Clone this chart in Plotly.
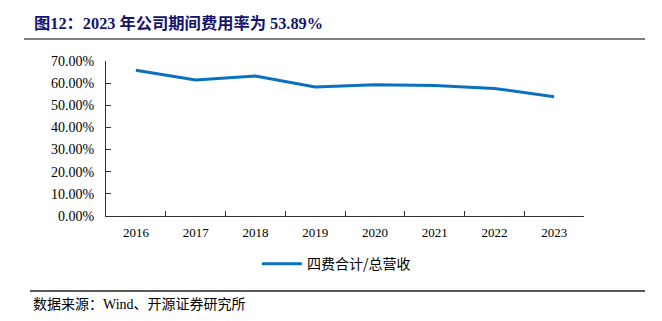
import plotly.graph_objects as go

years = ["2016", "2017", "2018", "2019", "2020", "2021", "2022", "2023"]
ratio = [65.8, 61.4, 63.2, 58.3, 59.3, 58.9, 57.6, 53.89]
y_ticks = [0, 10, 20, 30, 40, 50, 60, 70]
y_tick_text = [f"{v:.2f}%" for v in y_ticks]

W, H = 662, 321
L, R, T, B = 106, 78, 61, 105

FONT = "Liberation Serif, Times New Roman, Noto Sans CJK SC, serif"

fig = go.Figure()
fig.add_trace(go.Scatter(
    x=years, y=ratio, mode="lines", name="四费合计/总营收",
    line=dict(color="#0a70c0", width=3),
))

fig.update_layout(
    width=W, height=H,
    margin=dict(l=L, r=R, t=T, b=B),
    paper_bgcolor="white", plot_bgcolor="white",
    font=dict(family=FONT, size=13, color="#000"),
    showlegend=True,
    legend=dict(orientation="h", x=0.482, xanchor="center", y=-0.31, yanchor="middle",
                font=dict(family="Noto Sans CJK SC", size=14, color="#000"),
                itemwidth=40),
    xaxis=dict(
        type="category", tickson="boundaries", ticks="inside", ticklen=5,
        tickcolor="#333", showline=True, linecolor="#333", linewidth=1,
        showgrid=False, tickfont=dict(family=FONT, size=13),
        range=[-0.5, 7.5], ticklabelstandoff=4,
    ),
    yaxis=dict(
        range=[0, 70], tickvals=y_ticks, ticktext=y_tick_text,
        ticks="inside", ticklen=5, tickcolor="#333",
        showline=True, linecolor="#333", linewidth=1, showgrid=False,
        zeroline=False, tickfont=dict(family=FONT, size=14),
        ticklabelstandoff=8,
    ),
)

# title
fig.add_annotation(
    xref="paper", yref="paper", x=(32 - L) / (W - L - R), y=1 + (T - 24) / (H - T - B),
    xanchor="left", yanchor="middle", showarrow=False,
    text="<b>图12：2023 年公司期间费用率为 53.89%</b>",
    font=dict(family="Liberation Serif, Noto Sans CJK SC", size=16.3, color="#14146e"),
)
# source
fig.add_annotation(
    xref="paper", yref="paper", x=(31 - L) / (W - L - R), y=-(304 - (H - B)) / (H - T - B),
    xanchor="left", yanchor="middle", showarrow=False,
    text="数据来源：Wind、开源证券研究所",
    font=dict(family="Liberation Serif, Noto Sans CJK SC", size=14, color="#000"),
)

def px_x(px):
    return (px - L) / (W - L - R)

def px_y(py):
    return (H - B - py) / (H - T - B)

fig.add_shape(type="line", xref="paper", yref="paper",
              x0=px_x(24), x1=px_x(645), y0=px_y(39), y1=px_y(39),
              line=dict(color="#808080", width=2))
fig.add_shape(type="line", xref="paper", yref="paper",
              x0=px_x(30), x1=px_x(645), y0=px_y(291), y1=px_y(291),
              line=dict(color="#222", width=1.3))

fig.write_html("out.html")
